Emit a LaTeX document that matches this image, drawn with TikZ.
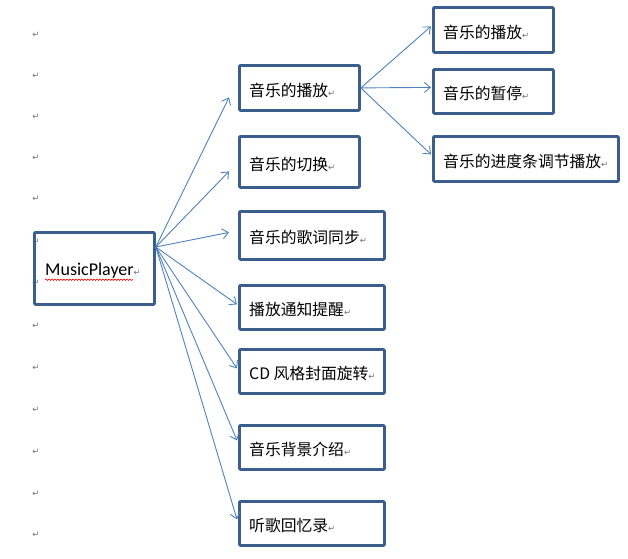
\documentclass[tikz,border=0pt]{standalone}
\usepackage{fontspec}
\usetikzlibrary{arrows.meta,decorations.pathmorphing}
\setmainfont{Carlito}
\newfontfamily\cjk{Noto Sans CJK SC}
\newfontfamily\symfont{DejaVu Sans}
\definecolor{boxblue}{HTML}{3B5E8C}
\definecolor{arrowblue}{HTML}{4F81BD}
\definecolor{markgray}{HTML}{707070}
\newcommand\retmark{{\symfont\fontsize{8.5}{8.5}\selectfont\color{markgray}↵}}
\tikzset{
  boxnode/.style={draw=boxblue, line width=2.8pt, rounded corners=1pt, inner sep=0pt, anchor=north west},
  txt/.style={inner sep=0pt, anchor=west, font=\cjk\fontsize{15.8}{16}\selectfont},
  conn/.style={draw=arrowblue, line width=0.9pt, -{Straight Barb[length=6pt,width=10pt]}},
  pmark/.style={inner sep=0pt, font=\symfont\fontsize{8.5}{8.5}\selectfont, text=markgray}
}
\begin{document}
\begin{tikzpicture}[x=1pt,y=-1pt]
\useasboundingbox (0,0) rectangle (628,558);
% left column paragraph marks
\foreach \yy [count=\i] in {34.6,75.7,116.8,157.9,198.9,242,283,325.7,367.9,410,451.8,493.6,534.6}
  \node[pmark] (m\i) at (36,\yy) {↵};
% boxes
\node[boxnode, minimum width=120pt, minimum height=72pt] (mp) at (33,231) {};
\node[boxnode, minimum width=120pt, minimum height=45pt] (a1) at (238,64) {};
\node[boxnode, minimum width=120pt, minimum height=51pt] (a2) at (238,135) {};
\node[boxnode, minimum width=145pt, minimum height=48pt] (a3) at (238,210) {};
\node[boxnode, minimum width=145pt, minimum height=44pt] (a4) at (238,284) {};
\node[boxnode, minimum width=145pt, minimum height=44pt] (a5) at (238,348) {};
\node[boxnode, minimum width=145pt, minimum height=44pt] (a6) at (238,424) {};
\node[boxnode, minimum width=145pt, minimum height=44pt] (a7) at (238,500) {};
\node[boxnode, minimum width=120pt, minimum height=45pt] (b1) at (432,6) {};
\node[boxnode, minimum width=120pt, minimum height=44pt] (b2) at (432,68) {};
\node[boxnode, minimum width=185pt, minimum height=45pt] (b3) at (432,135) {};
% texts
\node[txt, font=\fontsize{18}{18}\selectfont] (tmp) at ([xshift=12pt,yshift=-2.5pt]mp.west) {MusicPlayer\retmark};
\draw[red, line width=0.6pt, decorate, decoration={snake, amplitude=0.7pt, segment length=3pt}]
  ([yshift=-4pt]tmp.base west) -- ([xshift=-8pt,yshift=-4pt]tmp.base east);
\node[txt] (t1) at ([xshift=11pt,yshift=-2.5pt]a1.west) {音乐的播放\retmark};
\node[txt] (t2) at ([xshift=11pt,yshift=-2.5pt]a2.west) {音乐的切换\retmark};
\node[txt] (t3) at ([xshift=11pt,yshift=-2.5pt]a3.west) {音乐的歌词同步\retmark};
\node[txt] (t4) at ([xshift=11pt,yshift=-2.5pt]a4.west) {播放通知提醒\retmark};
\node[txt] (t5) at ([xshift=11pt,yshift=-2.5pt]a5.west) {CD 风格封面旋转\retmark};
\node[txt] (t6) at ([xshift=11pt,yshift=-2.5pt]a6.west) {音乐背景介绍\retmark};
\node[txt] (t7) at ([xshift=11pt,yshift=-2.5pt]a7.west) {听歌回忆录\retmark};
\node[txt] (s1) at ([xshift=11pt,yshift=-2.5pt]b1.west) {音乐的播放\retmark};
\node[txt] (s2) at ([xshift=11pt,yshift=-2.5pt]b2.west) {音乐的暂停\retmark};
\node[txt] (s3) at ([xshift=11pt,yshift=-2.5pt]b3.west) {音乐的进度条调节播放\retmark};
% connectors
\coordinate (mpout) at ([yshift=-16pt]mp.north east);
\draw[conn] (mpout) -- ([xshift=-9pt,yshift=-9.5pt]a1.west);
\draw[conn] (mpout) -- ([xshift=-9pt,yshift=-9.5pt]a2.west);
\draw[conn] (mpout) -- ([xshift=-9pt,yshift=3pt]a3.west);
\draw[conn] (mpout) -- ([xshift=-1pt,yshift=3pt]a4.west);
\draw[conn] (mpout) -- ([xshift=-1pt,yshift=3pt]a5.west);
\draw[conn] (mpout) -- ([xshift=-1pt,yshift=7pt]a6.west);
\draw[conn] (mpout) -- ([xshift=-1pt,yshift=4pt]a7.west);
\draw[conn] (a1.east) -- ([xshift=-1pt,yshift=3.5pt]b1.west);
\draw[conn] (a1.east) -- ([xshift=-1pt,yshift=4pt]b2.west);
\draw[conn] (a1.east) -- ([xshift=-1pt,yshift=4.5pt]b3.west);
\end{tikzpicture}
\end{document}
